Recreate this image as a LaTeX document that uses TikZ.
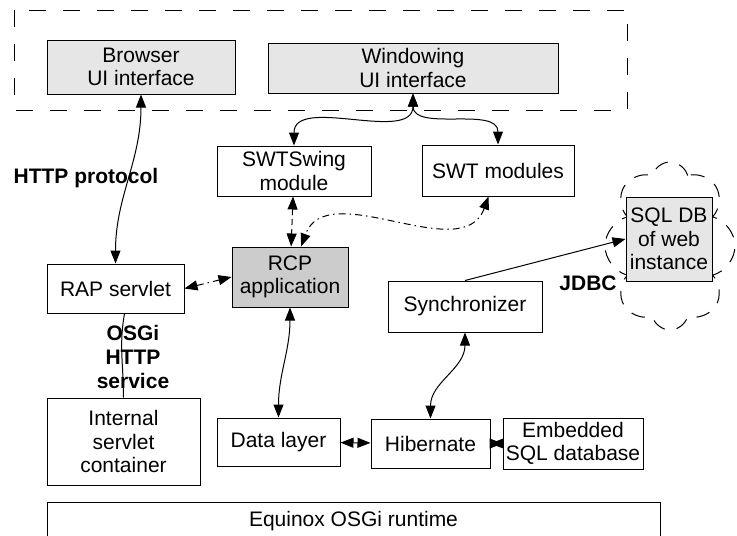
\documentclass[tikz,border=0pt]{standalone}
\usepackage{fontspec}
\setmainfont{Liberation Sans}
\usepackage{xcolor}
\usetikzlibrary{arrows.meta, shapes.symbols}

\definecolor{uifill}{HTML}{E6E6E6}
\definecolor{rcpfill}{HTML}{CCCCCC}

\begin{document}
\begin{tikzpicture}[x=1pt,y=1pt,<->,>={Triangle[length=13pt,width=10pt]},line width=1pt,
    every node/.style={font=\fontsize{21}{23.5}\selectfont, align=center},
    box/.style={draw, rectangle, inner sep=2pt},
    lbl/.style={font=\fontsize{21}{24}\selectfont\bfseries},
    dashdot/.style={dash pattern=on 7pt off 4pt on 1.5pt off 4pt},
    shortdash/.style={dash pattern=on 6pt off 4pt}]
    \useasboundingbox (0,0) rectangle (737,-536);

    % UI layer
    \draw[-, dash pattern=on 17pt off 17pt] (14,-10) rectangle (627,-110);
    \node[box, fill=uifill, minimum width=188pt, minimum height=54pt] (br) at (141,-67) {Browser\\UI interface};
    \node[box, fill=uifill, minimum width=290pt, minimum height=50pt] (win) at (413,-68) {Windowing\\UI interface};
    \node[box, minimum width=154pt, minimum height=50pt] (sws) at (294,-171) {SWTSwing\\module};
    \node[box, minimum width=152pt, minimum height=51pt] (swt) at (498,-170.5) {SWT modules};
    % application layer
    \node[box, minimum width=137pt, minimum height=49pt] (rap) at (115.5,-288.5) {RAP servlet};
    \node[box, fill=rcpfill, minimum width=116pt, minimum height=60pt] (rcp) at (290,-277) {RCP\\application};
    \node[box, minimum width=154pt, minimum height=51pt] (sync) at (465,-306.5) {Synchronizer};
    \node[-, draw, cloud, dash pattern=on 14pt off 12pt, cloud puffs=8, cloud puff arc=150, cloud ignores aspect,
          minimum width=130pt, minimum height=168pt] (webcloud) at (670,-246) {};
    \node[box, fill=uifill, minimum width=86pt, minimum height=84pt] (sqldb) at (669,-239) {SQL DB\\of web\\instance};
    % data layer
    \node[box, minimum width=153pt, minimum height=87pt] (isc) at (123.5,-441.5) {Internal\\servlet\\container};
    \node[box, minimum width=123pt, minimum height=48pt] (dl) at (278.5,-442) {Data layer};
    \node[box, minimum width=119pt, minimum height=49pt] (hib) at (430.5,-443.5) {Hibernate};
    \node[box, minimum width=140pt, minimum height=51pt] (emb) at (573,-443.5) {Embedded\\SQL database};
    \node[box, minimum width=613pt, minimum height=38pt] (eq) at (353.5,-521) {Equinox OSGi runtime};

    % labels
    \node[lbl] (http) at (86,-178) {HTTP protocol};
    \node[lbl] (osgi) at (133,-357) {OSGi\\HTTP\\service};
    \node[lbl] (jdbc) at (588,-283) {JDBC};

    \path (br) edge[out=-90, in=90] (rap)
          (win) edge[out=-90, in=90] (sws)
          (win) edge[out=-90, in=90] (swt)
          (sws) edge[shortdash] (rcp)
          (swt) edge[dashdot, out=-110, in=70] (rcp)
          (rap.east) edge[dashdot] (rcp.west)
          ([xshift=9pt]rap.south) edge[-, out=-100, in=90] (isc.north)
          % data access
          (rcp) edge[out=-90, in=90] (dl)
          (dl) edge (hib)
          (hib) edge[->] (emb)
          (emb) edge[->] (hib)
          (hib) edge[out=90, in=-90] (sync)
          (sync.north) edge[->] (sqldb.west);
\end{tikzpicture}
\end{document}
